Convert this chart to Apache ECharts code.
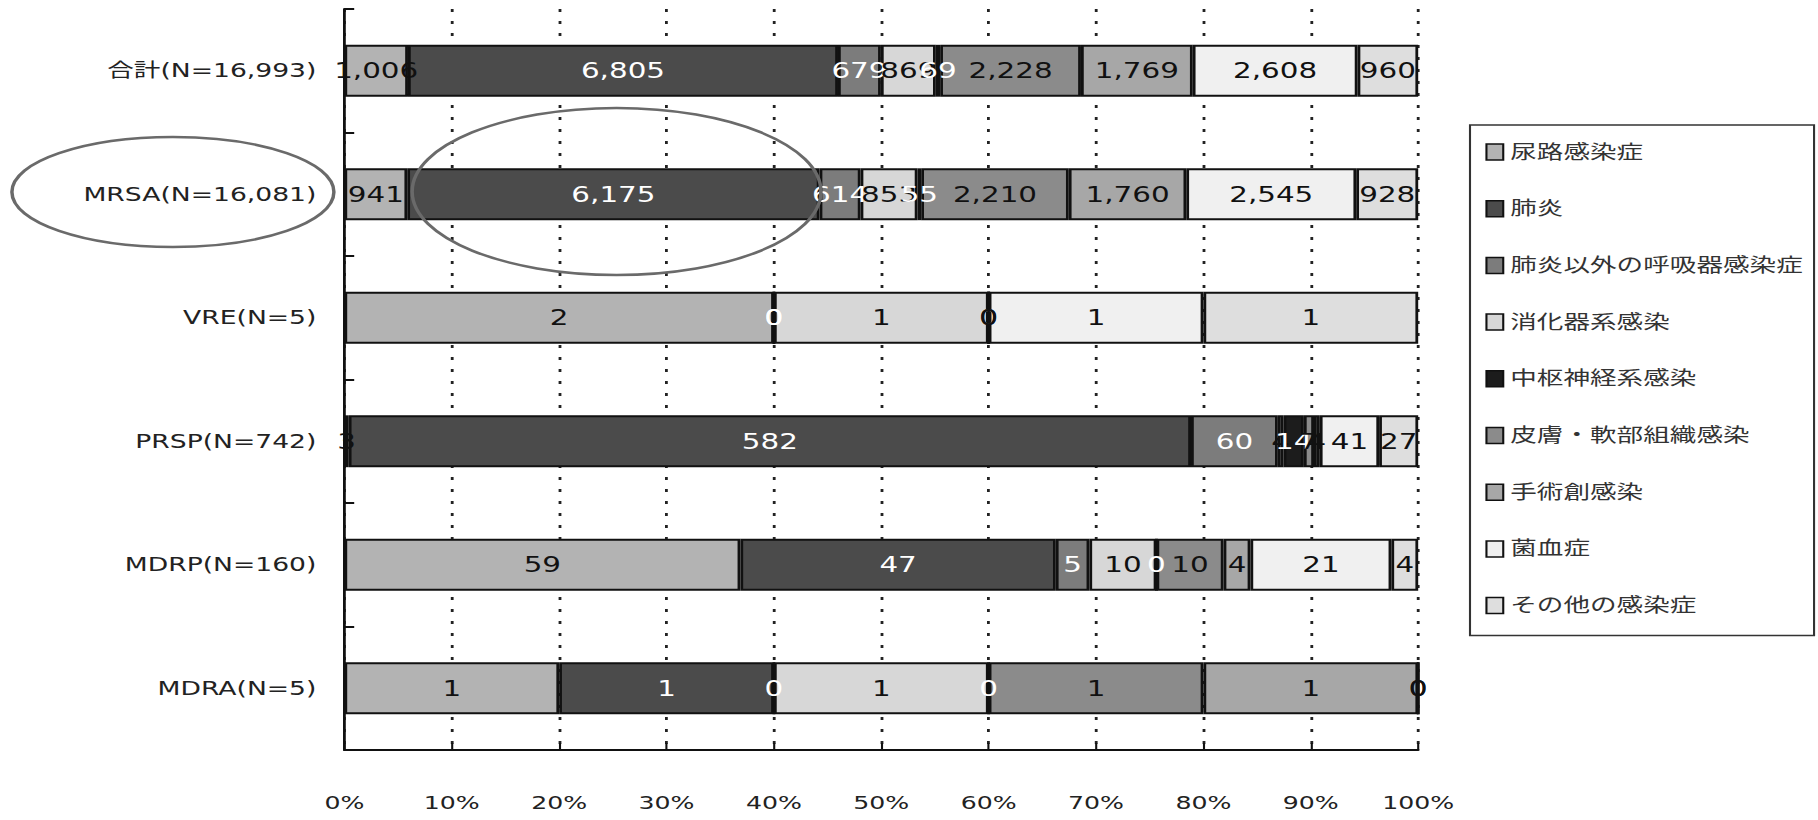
<!DOCTYPE html>
<html>
<head>
<meta charset="utf-8">
<title>耐性菌 感染症別</title>
<script src="https://cdn.jsdelivr.net/npm/echarts@6/dist/echarts.min.js"></script>
<style>
    html, body { margin: 0; padding: 0; background: #fff; overflow: hidden; }
    /* 元の図は横に引き伸ばされているので、描画後に横方向だけ拡大する */
    #main { width: 1299px; height: 820px; transform: scaleX(1.4); transform-origin: 0 0; }
</style>
</head>
<body>
<div id="main"></div>
<script>
var categories = ["合計(N=16,993)", "MRSA(N=16,081)", "VRE(N=5)", "PRSP(N=742)", "MDRP(N=160)", "MDRA(N=5)"];
var xTicks = [0, 10, 20, 30, 40, 50, 60, 70, 80, 90, 100];

var seriesNames = ["尿路感染症", "肺炎", "肺炎以外の呼吸器感染症", "消化器系感染", "中枢神経系感染",
    "皮膚・軟部組織感染", "手術創感染", "菌血症", "その他の感染症"];
var urinary = [1006, 941, 2, 3, 59, 1];
var pneumonia = [6805, 6175, 0, 582, 47, 1];
var respOther = [679, 614, 0, 60, 5, 0];
var digestive = [869, 853, 1, 4, 10, 1];
var cns = [69, 55, 0, 14, 0, 0];
var skin = [2228, 2210, 0, 7, 10, 1];
var surgical = [1769, 1760, 0, 4, 4, 1];
var bacteremia = [2608, 2545, 1, 41, 21, 0];
var others = [960, 928, 1, 27, 4, 0];

var rawData = [urinary, pneumonia, respOther, digestive, cns, skin, surgical, bacteremia, others];
var colors = ["#b3b3b3", "#4b4b4b", "#7c7c7c", "#d7d7d7", "#1c1c1c", "#8b8b8b", "#a7a7a7", "#f0f0f0", "#dedede"];
var labelColors = ["#111", "#fff", "#fff", "#111", "#fff", "#111", "#111", "#111", "#111"];

// 各カテゴリの合計（100%積み上げ用）
var totals = categories.map(function (c, i) {
    var s = 0;
    rawData.forEach(function (arr) { s += arr[i]; });
    return s;
});

var font = "'DejaVu Sans', 'Noto Sans CJK JP', sans-serif";

var series = seriesNames.map(function (name, k) {
    return {
        name: name,
        type: "bar",
        stack: "total",
        barCategoryGap: "58%",
        data: rawData[k].map(function (v, i) { return v / totals[i] * 100; }),
        itemStyle: { color: colors[k], borderColor: "#111", borderWidth: 2 },
        label: {
            show: true,
            position: "inside",
            color: labelColors[k],
            fontFamily: font,
            fontSize: 21,
            formatter: function (p) {
                return rawData[p.seriesIndex][p.dataIndex].toLocaleString("en-US");
            }
        },
        emphasis: { disabled: true }
    };
});

var chart = echarts.init(document.getElementById("main"), null, { renderer: "svg" });
chart.setOption({
    animation: false,
    grid: { left: 246, right: 286, top: 9, bottom: 70 },
    xAxis: {
        type: "value",
        min: 0,
        max: 100,
        interval: 10,
        axisLine: { show: true, lineStyle: { color: "#111", width: 2 } },
        axisTick: { show: true, inside: true, length: 7, lineStyle: { color: "#111", width: 1.5 } },
        axisLabel: {
            margin: 44,
            color: "#222",
            fontFamily: font,
            fontSize: 18,
            formatter: function (v) { return xTicks.indexOf(v) >= 0 ? v + "%" : ""; }
        },
        splitLine: { show: true, lineStyle: { color: "#222", width: 2, type: [3, 9] } }
    },
    yAxis: {
        type: "category",
        inverse: true,
        data: categories,
        axisLine: { show: true, lineStyle: { color: "#111", width: 2 } },
        axisTick: { show: true, inside: true, length: 7, lineStyle: { color: "#111", width: 2 } },
        axisLabel: { margin: 20, color: "#222", fontFamily: font, fontSize: 19 }
    },
    legend: {
        orient: "vertical",
        left: 1050,
        top: 125,
        padding: [17, 8, 20, 11],
        itemGap: 36.7,
        itemWidth: 12,
        itemHeight: 16,
        icon: "rect",
        borderColor: "#333",
        borderWidth: 1.5,
        borderRadius: 0,
        itemStyle: { borderColor: "#111", borderWidth: 1.5 },
        textStyle: { color: "#333", fontFamily: font, fontSize: 19, lineHeight: 20 },
        data: seriesNames
    },
    graphic: [
        {
            type: "ellipse",
            z: 100,
            shape: { cx: 123.5, cy: 192, rx: 115, ry: 55 },
            style: { fill: "none", stroke: "#6a6a6a", lineWidth: 2.5 }
        },
        {
            type: "ellipse",
            z: 100,
            shape: { cx: 440.4, cy: 191.5, rx: 146, ry: 83.5 },
            style: { fill: "none", stroke: "#6a6a6a", lineWidth: 2.5 }
        }
    ],
    series: series
});
</script>
</body>
</html>
